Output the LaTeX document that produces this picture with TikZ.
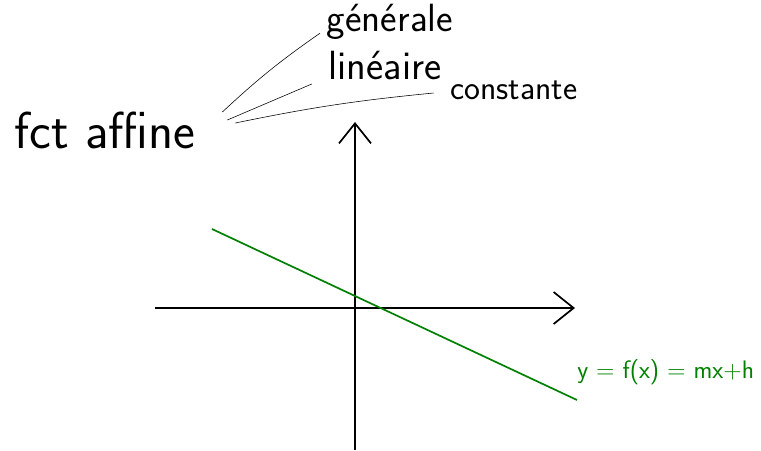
\documentclass[tikz,border=0pt]{standalone}
\usetikzlibrary{arrows.meta,calc}

\begin{document}
\begin{tikzpicture}[>={Straight Barb[length=5mm,width=8mm]}, font=\sffamily]
  \useasboundingbox (-8.875,-3.55) rectangle (10.15,7.7);

  % --- titre et les trois cas ---
  \node (fct) at (-6.25,4.45) {\fontsize{37}{40}\selectfont fct affine};
  \node (gen) at (0.875,7.15) {\fontsize{28}{30}\selectfont générale};
  \node (lin) at (0.75,6.05) {\fontsize{29}{31}\selectfont linéaire};
  \node (cst) at (3.975,5.45) {\fontsize{24}{26}\selectfont constante};

  \draw[thin] ($(fct.east)+(0.55,0.45)$) to[bend left=4] ($(gen.west)+(-0.05,-0.28)$);
  \draw[thin] ($(fct.east)+(0.675,0.25)$) -- ($(lin.west)+(-0.3,-0.45)$);
  \draw[thin] ($(fct.east)+(0.875,0.175)$) to[bend left=3] ($(cst.west)+(-0.3,-0.075)$);

  % --- repere ---
  \coordinate (O) at (0,0);
  \coordinate (X) at (5.5,0);
  \coordinate (Y) at (0,4.65);
  \draw[->, line width=1.2pt] (-5.0,0) -- (X);
  \draw[->, line width=1.2pt] (0,-3.55) -- (Y);

  % --- droite ---
  \coordinate (A) at (-3.575,1.975);
  \coordinate (B) at (5.55,-2.3);
  \draw[green!50!black, line width=1.2pt] (A) -- (B);
  \node[green!50!black, anchor=west, inner sep=0pt] (eq) at (5.55,-1.6)
    {\fontsize{18}{20}\selectfont y = f(x) = mx+h};
\end{tikzpicture}
\end{document}
